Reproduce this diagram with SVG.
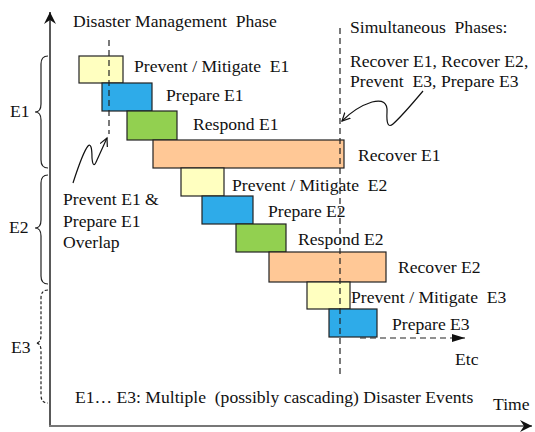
<svg xmlns="http://www.w3.org/2000/svg" width="535" height="432" viewBox="0 0 535 432">
  <style>
    text { font-family: "Liberation Serif", "Times New Roman", serif; font-size: 17.6px; fill: #111; white-space: pre; }
    .box { stroke: #222; stroke-width: 1.2; }
    .prevent { fill: #FFFFC0; }
    .prepare { fill: #2EABE9; }
    .respond { fill: #92D050; }
    .recover { fill: #FFC896; }
    .brace { fill: none; stroke: #222; stroke-width: 1.2; }
    .dash { fill: none; stroke: #222; stroke-width: 1.2; stroke-dasharray: 6 4; }
    .curve { fill: none; stroke: #111; stroke-width: 1.2; }
  </style>
  <defs>
    <marker id="openHead" markerWidth="10" markerHeight="10" refX="8" refY="5" orient="auto" markerUnits="userSpaceOnUse">
      <path d="M0,1 L8,5 L0,9" fill="none" stroke="#111" stroke-width="1.2"/>
    </marker>
    <marker id="solidHead" markerWidth="14" markerHeight="10" refX="13" refY="5" orient="auto" markerUnits="userSpaceOnUse">
      <path d="M0,1 L13,5 L0,9 Z" fill="#111"/>
    </marker>
    <marker id="axisHead" markerWidth="14" markerHeight="12" refX="12" refY="6" orient="auto" markerUnits="userSpaceOnUse">
      <path d="M0,0 L12,6 L0,12 L4,6 Z" fill="#111"/>
    </marker>
  </defs>

  <!-- axes -->
  <g id="axes">
    <line x1="50" y1="426" x2="50" y2="12" stroke="#222" stroke-width="1.5" marker-end="url(#axisHead)"/>
    <line x1="49" y1="426" x2="532" y2="426" stroke="#777" stroke-width="2.2" marker-end="url(#axisHead)"/>
    <text x="73" y="27">Disaster Management&#160; Phase</text>
    <text x="493" y="410">Time</text>
  </g>

  <!-- event braces -->
  <g id="brace-e1">
    <path class="brace" d="M48,56 Q41,56 41,64 L41,104 Q41,112 35,112 Q41,112 41,120 L41,160 Q41,168 48,168"/>
    <text x="10" y="117">E1</text>
  </g>
  <g id="brace-e2">
    <path class="brace" d="M48,175 Q41,175 41,183 L41,220 Q41,228 35,228 Q41,228 41,236 L41,276 Q41,284 48,284"/>
    <text x="9" y="233">E2</text>
  </g>
  <g id="brace-e3">
    <path class="brace" stroke-dasharray="3 2" d="M48,290 Q41,290 41,298 L41,335 Q41,343 36,343 Q41,343 41,351 L41,395 Q41,403 48,403"/>
    <text x="11" y="353">E3</text>
  </g>

  <!-- phase bars -->
  <g id="prevent-e1"><rect class="box prevent" x="79" y="56" width="44" height="27"/><text x="134" y="72">Prevent / Mitigate&#160; E1</text></g>
  <g id="prepare-e1"><rect class="box prepare" x="102" y="83" width="50" height="28"/><text x="166" y="101">Prepare E1</text></g>
  <g id="respond-e1"><rect class="box respond" x="127" y="111" width="50" height="29"/><text x="193" y="130">Respond E1</text></g>
  <g id="recover-e1"><rect class="box recover" x="153" y="140" width="191" height="28"/><text x="358" y="161">Recover E1</text></g>
  <g id="prevent-e2"><rect class="box prevent" x="181" y="168" width="43" height="28"/><text x="232" y="191">Prevent / Mitigate&#160; E2</text></g>
  <g id="prepare-e2"><rect class="box prepare" x="202" y="196" width="51" height="28"/><text x="268" y="217">Prepare E2</text></g>
  <g id="respond-e2"><rect class="box respond" x="236" y="224" width="50" height="28"/><text x="298" y="245">Respond E2</text></g>
  <g id="recover-e2"><rect class="box recover" x="269" y="252" width="117" height="30"/><text x="398" y="273">Recover E2</text></g>
  <g id="prevent-e3"><rect class="box prevent" x="307" y="282" width="43" height="27"/><text x="351" y="303">Prevent / Mitigate&#160; E3</text></g>
  <g id="prepare-e3"><rect class="box prepare" x="329" y="309" width="48" height="28"/><text x="392" y="330">Prepare E3</text></g>

  <!-- annotations -->
  <g id="overlap-note">
    <text x="63" y="205">Prevent E1 &amp;</text>
    <text x="63" y="227">Prepare E1</text>
    <text x="63" y="248">Overlap</text>
  </g>
  <g id="simultaneous-note">
    <text x="350" y="33">Simultaneous&#160; Phases:</text>
    <text x="350" y="67">Recover E1, Recover E2,</text>
    <text x="350" y="87">Prevent&#160; E3, Prepare E3</text>
  </g>
  <g id="etc-note">
    <text x="455" y="365">Etc</text>
  </g>
  <g id="legend">
    <text x="75" y="403">E1… E3: Multiple&#160; (possibly cascading) Disaster Events</text>
  </g>

  <!-- connectors -->
  <g id="connectors">
    <line class="dash" x1="109" y1="40" x2="109" y2="134"/>
    <line class="dash" x1="340" y1="28" x2="340" y2="374"/>
    <line class="dash" stroke-dasharray="4 3" x1="360" y1="338" x2="465" y2="338" marker-end="url(#solidHead)"/>
    <path class="curve" d="M73,183 Q83,152 88,146 Q92,142 92,158 Q93,170 97,160 L107,138" marker-end="url(#openHead)"/>
    <path class="curve" d="M423,91 Q402,116 393,124 Q386,130 387,112 Q388,98 372,102 Q356,107 342,121" marker-end="url(#openHead)"/>
  </g>
</svg>
